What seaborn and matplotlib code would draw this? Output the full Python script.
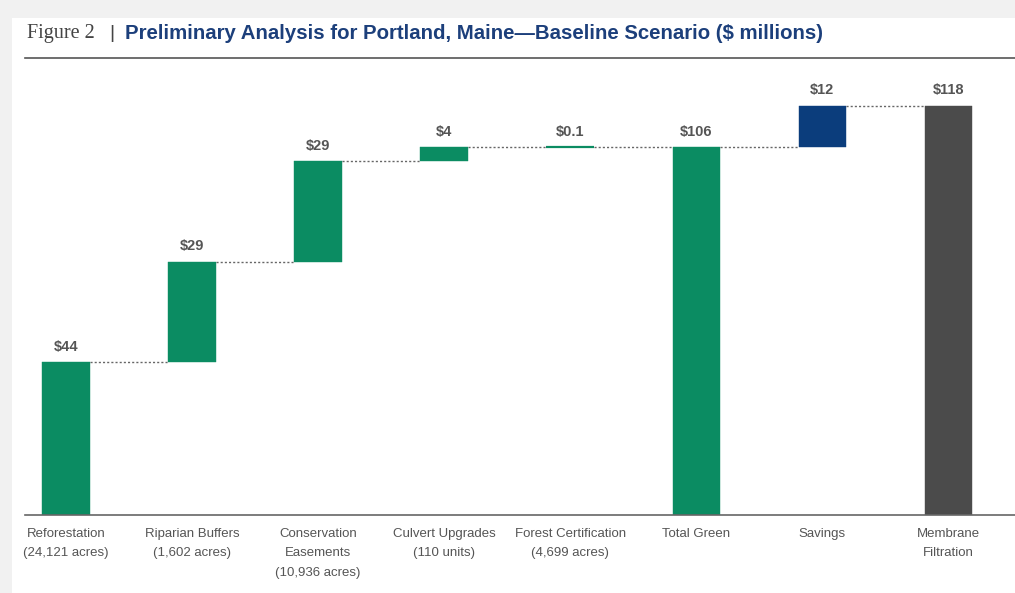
import numpy as np
import pandas as pd
import matplotlib.pyplot as plt
import seaborn as sns
from matplotlib.patches import Rectangle
from matplotlib.lines import Line2D

# Chart data ($ millions)
categories = ["Reforestation\n(24,121 acres)", "Riparian Buffers\n(1,602 acres)",
              "Conservation\nEasements\n(10,936 acres)", "Culvert Upgrades\n(110 units)",
              "Forest Certification\n(4,699 acres)", "Total Green", "Savings",
              "Membrane\nFiltration"]
heights = [44, 29, 29, 4, 0.1, 106, 12, 118]
bottoms = [0, 44, 73, 102, 106, 0, 106, 0]
value_labels = ["$44", "$29", "$29", "$4", "$0.1", "$106", "$12", "$118"]
bar_colors = ["#0b8c62"] * 6 + ["#0b3d7c", "#4b4b4b"]

df = pd.DataFrame({"category": categories, "height": heights, "bottom": bottoms})

sans = ["Liberation Sans", "DejaVu Sans"]

fig = plt.figure(figsize=(10.15, 5.93), dpi=100, facecolor="#f1f1f1")
fig.add_artist(Rectangle((0.012, 0), 0.988, 0.97, transform=fig.transFigure,
                         facecolor="white", edgecolor="none", zorder=0))

ax = fig.add_axes([25 / 1015, 0.1315, 1 - 25 / 1015, 0.7605])
ax.set_facecolor("white")

sns.barplot(data=df, x="category", y="height", order=categories, bottom=df["bottom"],
            width=0.375, errorbar=None, color=bar_colors[0], ax=ax, zorder=2)
for patch, c in zip(ax.patches, bar_colors):
    patch.set_facecolor(c)
    patch.set_edgecolor(c)
    patch.set_linewidth(0.3)
# the $0.1 bar is only a sliver; give it a visible outline
ax.patches[4].set_linewidth(1.6)

w = 0.375
tops = [b + h for b, h in zip(bottoms, heights)]
# connector lines between bars
for i in range(len(categories) - 1):
    ax.plot([i + w / 2, i + 1 - w / 2], [tops[i], tops[i]], ls=(0, (1.5, 1.5)),
            color="#666666", lw=1, zorder=1)

for i, lab in enumerate(value_labels):
    ax.annotate(lab, (i, tops[i]), xytext=(0, 6), textcoords="offset points",
                ha="center", va="bottom", fontsize=10.5, fontweight="bold",
                color="#555555", family=sans)

ax.set_xlim(-0.325, 7.53)
ax.set_ylim(0, 130)
ax.set_xlabel("")
ax.set_ylabel("")
ax.set_yticks([])
for s in ["top", "left", "right"]:
    ax.spines[s].set_visible(False)
ax.spines["bottom"].set_color("#666666")
ax.spines["bottom"].set_linewidth(1.2)
ax.tick_params(axis="x", length=0, pad=9)
for t in ax.get_xticklabels():
    t.set_fontfamily(sans)
    t.set_fontsize(9.5)
    t.set_color("#555555")
    t.set_linespacing(1.85)

# title
fig.text(0.027, 0.944, "Figure 2", family=["Liberation Serif", "DejaVu Serif"],
         fontsize=14.5, color="#444444", va="center")
fig.text(0.108, 0.944, "|", fontsize=14, color="#444444", va="center", family=sans)
fig.text(0.123, 0.944, "Preliminary Analysis for Portland, Maine\u2014Baseline Scenario ($ millions)",
         family=sans, fontsize=14.7, fontweight="bold", color="#1c3f7b", va="center")
fig.add_artist(Line2D([25 / 1015, 1], [0.902, 0.902], transform=fig.transFigure,
                      color="#555555", lw=1.2))

fig.savefig("out.png", dpi=100, facecolor=fig.get_facecolor())
